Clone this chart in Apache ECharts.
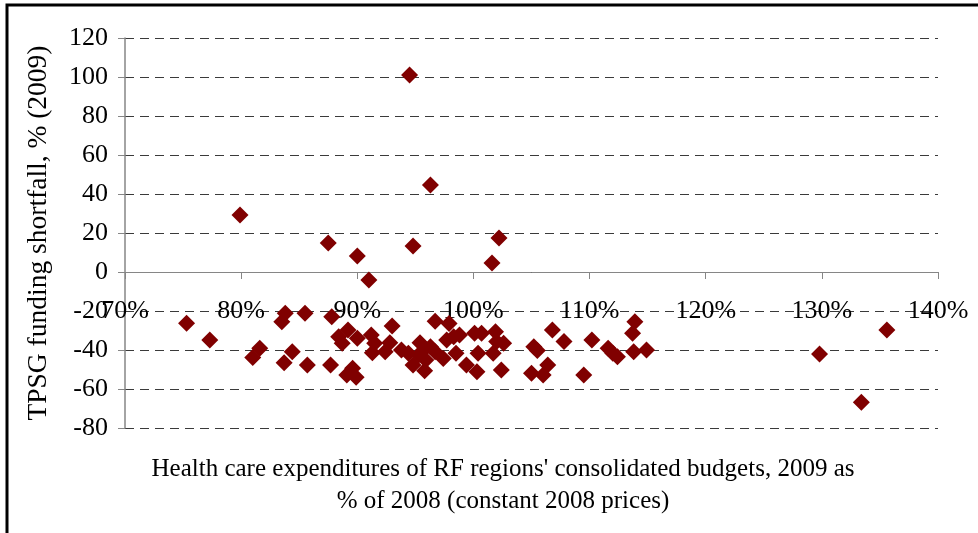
<!DOCTYPE html>
<html>
<head>
<meta charset="utf-8">
<script src="https://cdn.jsdelivr.net/npm/echarts@6/dist/echarts.min.js"></script>
<style>
  html, body { margin: 0; padding: 0; background: #fff; }
  #chart { width: 978px; height: 533px; }
</style>
</head>
<body>
<div id="chart"></div>
<script>
// health care spending 2009 as % of 2008, per region
const spendPct = [
  79.9, 87.5, 90.0, 91.0, 94.5, 94.8, 96.3, 102.2, 101.6,
  75.3, 77.3, 83.8, 83.5, 85.5, 81.6, 81.0, 84.4, 83.7, 85.7,
  87.8, 87.7, 88.4, 88.7, 89.2, 90.0, 89.1, 89.6, 89.9,
  91.2, 93.0, 91.5, 91.3, 92.4, 92.8, 93.8, 94.4, 94.8, 95.4,
  95.7, 95.3, 95.9, 95.8, 96.3, 96.7, 96.7, 97.4, 97.9, 97.7,
  98.3, 98.5, 98.8, 99.4, 100.1, 100.7, 100.3, 100.4, 101.9, 102.0,
  102.6, 101.7, 102.4,
  106.8, 107.8, 105.2, 105.5, 105.0, 106.0, 106.4, 109.5, 110.2,
  111.6, 112.0, 112.4, 113.9, 113.7, 113.8, 114.9,
  129.8, 133.4, 135.6
];
// TPSG funding shortfall, % (2009), same order
const shortfallPct = [
  29.2, 14.9, 8.2, -4.1, 101.0, 13.3, 44.6, 17.4, 4.6,
  -26.3, -34.9, -21.2, -25.5, -21.2, -39.1, -43.8, -40.9, -46.5, -47.7,
  -22.9, -47.7, -33.2, -36.6, -29.7, -34.0, -52.8, -49.4, -54.0,
  -32.3, -27.7, -36.6, -41.4, -40.9, -36.3, -40.0, -41.7, -47.7, -36.3,
  -40.0, -42.6, -45.1, -50.6, -38.3, -40.9, -25.2, -44.3, -26.4, -34.9,
  -33.2, -41.7, -32.3, -47.7, -31.4, -31.4, -51.1, -41.7, -30.6, -35.7,
  -36.6, -41.7, -50.3,
  -29.7, -35.7, -38.3, -40.3, -51.9, -52.8, -47.7, -52.8, -34.9,
  -39.1, -41.7, -43.4, -25.5, -31.4, -40.9, -40.0,
  -42.1, -66.8, -29.7
];

const xMin = 70, xMax = 140, xStep = 10;
const yMin = -80, yMax = 120, yStep = 20;

const yTitle = 'TPSG funding shortfall, % (2009)';
const xTitle = "Health care expenditures of RF regions' consolidated budgets, 2009 as\n% of 2008 (constant 2008 prices)";

const points = spendPct.map((x, i) => [x, shortfallPct[i]]);

const font = 'Liberation Serif';
const myChart = echarts.init(document.getElementById('chart'));

const gridTop = 38, gridBottom = 105, plotH = 533 - gridTop - gridBottom;
// x axis crosses at y = 0: shift it up from the bottom edge of the grid
const zeroShift = plotH * (0 - yMin) / (yMax - yMin);

const option = {
  animation: false,
  grid: { left: 125, right: 40, top: gridTop, bottom: gridBottom },
  xAxis: {
    type: 'value',
    min: xMin,
    max: xMax,
    interval: xStep,
    position: 'bottom',
    offset: -zeroShift,
    axisLine: { onZero: false, lineStyle: { color: '#868686', width: 1 } },
    axisTick: { show: true, length: 7, lineStyle: { color: '#868686' } },
    axisLabel: {
      formatter: '{value}%',
      color: '#000',
      fontFamily: font,
      fontSize: 26,
      margin: 26
    },
    splitLine: { show: false }
  },
  yAxis: {
    type: 'value',
    min: yMin,
    max: yMax,
    interval: yStep,
    name: yTitle,
    nameLocation: 'middle',
    nameGap: 72,
    nameTextStyle: { color: '#000', fontFamily: font, fontSize: 27.5 },
    axisLine: { show: true, onZero: false, lineStyle: { color: '#868686', width: 1.5 } },
    axisTick: { show: true, length: 7, lineStyle: { color: '#868686' } },
    axisLabel: { color: '#000', fontFamily: font, fontSize: 26, margin: 17 },
    splitLine: {
      show: true,
      lineStyle: { color: '#3a3a3a', width: 1, type: [9, 6] }
    }
  },
  graphic: [
    {
      type: 'rect',
      shape: { x: 7, y: 5, width: 990, height: 560 },
      style: { fill: 'none', stroke: '#000', lineWidth: 3 },
      silent: true
    },
    {
      type: 'text',
      x: 503,
      y: 453,
      style: {
        text: xTitle,
        textAlign: 'center',
        fill: '#000',
        font: '25px "Liberation Serif"',
        lineHeight: 32
      }
    }
  ],
  series: [
    {
      type: 'scatter',
      symbol: 'diamond',
      symbolSize: 17,
      itemStyle: { color: '#800000', opacity: 1 },
      data: points
    }
  ]
};

myChart.setOption(option);
</script>
</body>
</html>
